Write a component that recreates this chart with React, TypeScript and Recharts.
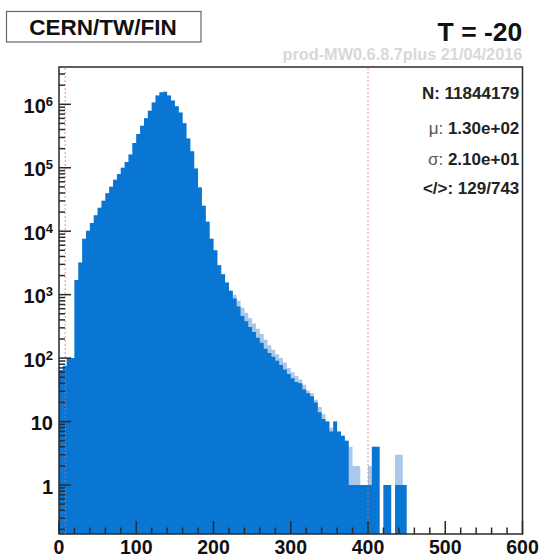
import { ComposedChart, Area, XAxis, YAxis, ReferenceLine, ReferenceArea } from "recharts";

// histogram binning (ADC units)
const BIN_WIDTH = 5;
const X_MIN = 0;
const X_MAX = 600;
const Y_MIN = 0.169;
const Y_MAX = 3.87e6;

// entries per bin, bins start at 0, 5, 10, ... 595
const DARK_COUNTS = [
  65, 75, 100, 100, 1700, 3200, 7600, 10200, 13500, 17800,
  23400, 30200, 39800, 50100, 64600, 79400, 100000, 123000, 162000, 245000,
  339000, 457000, 603000, 794000, 1070000, 1380000, 1550000, 1580000, 1380000, 1150000,
  933000, 741000, 501000, 288000, 182000, 97700, 49000, 25100, 14100, 7600,
  5000, 2900, 2100, 1550, 1150, 870, 650, 460, 380, 310,
  257, 209, 174, 141, 120, 105, 91, 78, 66, 56,
  48, 42, 40, 32, 28, 25, 20, 14, 11, 10,
  7, 10, 7, 6, 5, 1, 1, 1, 1, 1,
  1, 4, 4, 0, 1, 1, 0, 1, 1, 1,
  0, 0, 0, 0, 0, 0, 0, 0, 0, 0,
  0, 0, 0, 0, 0, 0, 0, 0, 0, 0,
  0, 0, 0, 0, 0, 0, 0, 0, 0, 0,
];

// reference histogram, drawn behind (only shows in the tail)
const LIGHT_COUNTS = [
  65, 75, 100, 100, 1700, 3200, 7600, 10200, 13500, 17800,
  23400, 30200, 39800, 50100, 64600, 79400, 100000, 123000, 162000, 245000,
  339000, 457000, 603000, 794000, 1070000, 1380000, 1550000, 1580000, 1380000, 1150000,
  933000, 741000, 501000, 288000, 182000, 97700, 49000, 25100, 14100, 7600,
  5000, 2900, 2100, 1550, 1150, 1000, 800, 620, 520, 430,
  350, 290, 240, 195, 160, 135, 115, 100, 85, 70,
  60, 52, 46, 38, 31, 28, 22, 17, 13, 10,
  8, 10, 7, 6, 5, 4, 2, 2, 1, 1,
  2, 4, 4, 0, 1, 1, 0, 3, 3, 1,
  0, 0, 0, 0, 0, 0, 0, 0, 0, 0,
  0, 0, 0, 0, 0, 0, 0, 0, 0, 0,
  0, 0, 0, 0, 0, 0, 0, 0, 0, 0,
];

const X_MAJOR = [0, 100, 200, 300, 400, 500, 600];
const Y_MAJOR = [1, 10, 100, 1000, 10000, 100000, 1000000];
const Y_EXPONENT = [null, null, 2, 3, 4, 5, 6];
const CUT_LINES = [8, 400];

const STATS = [
  ["N: ", "11844179"],
  ["\u03bc: ", "1.30e+02"],
  ["\u03c3: ", "2.10e+01"],
  ["</>: ", "129/743"],
];
const STATS_Y = [99, 133.5, 164.5, 194];

const X_MINOR: number[] = [];
for (let v = X_MIN; v <= X_MAX; v += 20) if (!X_MAJOR.includes(v)) X_MINOR.push(v);
const Y_MINOR: number[] = [];
for (let e = -1; e <= 6; e++)
  for (let m = 2; m <= 9; m++) {
    const v = m * Math.pow(10, e);
    if (v > Y_MIN && v < Y_MAX) Y_MINOR.push(v);
  }
const X_TICKS = [...X_MAJOR, ...X_MINOR].sort((a, b) => a - b);
const Y_TICKS = [...Y_MAJOR, ...Y_MINOR].sort((a, b) => a - b);

const DARK = "#0a76d3";
const LIGHT = "#a9c8ea";
const AXIS = "#2a2a2a";
const FONT = "'Liberation Sans', Arial, Helvetica, sans-serif";
const W = 544;
const H = 556;

const floor = (c: number) => (c > 0 ? c : Y_MIN);
const data = DARK_COUNTS.map((d, i) => ({
  x: X_MIN + i * BIN_WIDTH,
  dark: floor(d),
  light: floor(LIGHT_COUNTS[i]),
}));
data.push({ x: X_MAX, dark: Y_MIN, light: Y_MIN });

function XTick({ x, y, payload }: any) {
  const major = X_MAJOR.includes(payload.value);
  return (
    <g>
      <line x1={x} x2={x} y1={y} y2={y - (major ? 13 : 6.5)} stroke={AXIS} strokeWidth={1.5} />
      {major && (
        <text x={x} y={y + 19.5} textAnchor="middle" fontFamily={FONT} fontWeight="bold" fontSize={19.5} fill="#111">
          {payload.value}
        </text>
      )}
    </g>
  );
}

function YTick({ x, y, payload }: any) {
  const i = Y_MAJOR.indexOf(payload.value);
  const major = i >= 0;
  const exp = major ? Y_EXPONENT[i] : null;
  return (
    <g>
      <line x1={x} x2={x + (major ? 12 : 6)} y1={y} y2={y} stroke={AXIS} strokeWidth={1.5} />
      {major && (
        <text x={x - 6} y={y + 8.5} textAnchor="end" fontFamily={FONT} fontWeight="bold" fontSize={20} fill="#111">
          {exp === null ? (
            String(payload.value)
          ) : (
            <>
              <tspan>10</tspan>
              <tspan dy={-7} fontSize={13}>{exp}</tspan>
            </>
          )}
        </text>
      )}
    </g>
  );
}

export default function App() {
  return (
    <div style={{ position: "absolute", left: 0, top: 0, width: W, height: H, background: "#fff" }}>
      <ComposedChart
        width={W}
        height={H}
        data={data}
        margin={{ top: 67, right: 21.5, bottom: 0, left: 0 }}
        style={{ position: "absolute", left: 0, top: 0 }}
      >
        <Area
          type="stepAfter"
          dataKey="light"
          fill={LIGHT}
          fillOpacity={1}
          stroke="none"
          baseValue={Y_MIN}
          isAnimationActive={false}
        />
        <Area
          type="stepAfter"
          dataKey="dark"
          fill={DARK}
          fillOpacity={1}
          stroke="none"
          baseValue={Y_MIN}
          isAnimationActive={false}
        />
        {CUT_LINES.map((c) => (
          <ReferenceLine key={c} x={c} stroke="#ee6666" strokeOpacity={0.75} strokeDasharray="2 2" strokeWidth={1} />
        ))}
        <XAxis
          dataKey="x"
          type="number"
          domain={[X_MIN, X_MAX]}
          allowDataOverflow
          ticks={X_TICKS}
          interval={0}
          tickSize={0}
          tickMargin={0}
          tickLine={false}
          axisLine={false}
          tick={<XTick />}
          height={22}
        />
        <YAxis
          type="number"
          scale="log"
          domain={[Y_MIN, Y_MAX]}
          allowDataOverflow
          ticks={Y_TICKS}
          interval={0}
          tickSize={0}
          tickMargin={0}
          tickLine={false}
          axisLine={false}
          tick={<YTick />}
          width={59}
        />
        <ReferenceArea
          x1={X_MIN}
          x2={X_MAX}
          y1={Y_MIN}
          y2={Y_MAX}
          fill="none"
          stroke={AXIS}
          strokeWidth={1.5}
          ifOverflow="visible"
        />
      </ComposedChart>
      <svg width={W} height={H} style={{ position: "absolute", left: 0, top: 0, pointerEvents: "none" }}>
        <rect x={6.5} y={11.5} width={194.5} height={30.5} fill="#fff" stroke="#666" strokeWidth={1.2} />
        <text x={103} y={34.7} textAnchor="middle" fontFamily={FONT} fontWeight="bold" fontSize={22.5} fill="#111">
          CERN/TW/FIN
        </text>
        <text x={522.3} y={40.7} textAnchor="end" fontFamily={FONT} fontWeight="bold" fontSize={26.5} fill="#111">
          T = -20
        </text>
        <text x={522.3} y={60} textAnchor="end" fontFamily={FONT} fontWeight="bold" fontSize={16.3} fill="#d8d8d8">
          prod-MW0.6.8.7plus 21/04/2016
        </text>
        {STATS.map(([k, v], i) => (
          <text
            key={k}
            x={519.3}
            y={STATS_Y[i]}
            textAnchor="end"
            fontFamily={FONT}
            fontWeight="bold"
            fontSize={17}
            fill="#222"
          >
            <tspan fontWeight={i === 1 || i === 2 ? "normal" : "bold"} fill={i === 1 || i === 2 ? "#555" : "#222"}>
              {k}
            </tspan>
            <tspan>{v}</tspan>
          </text>
        ))}
      </svg>
    </div>
  );
}
